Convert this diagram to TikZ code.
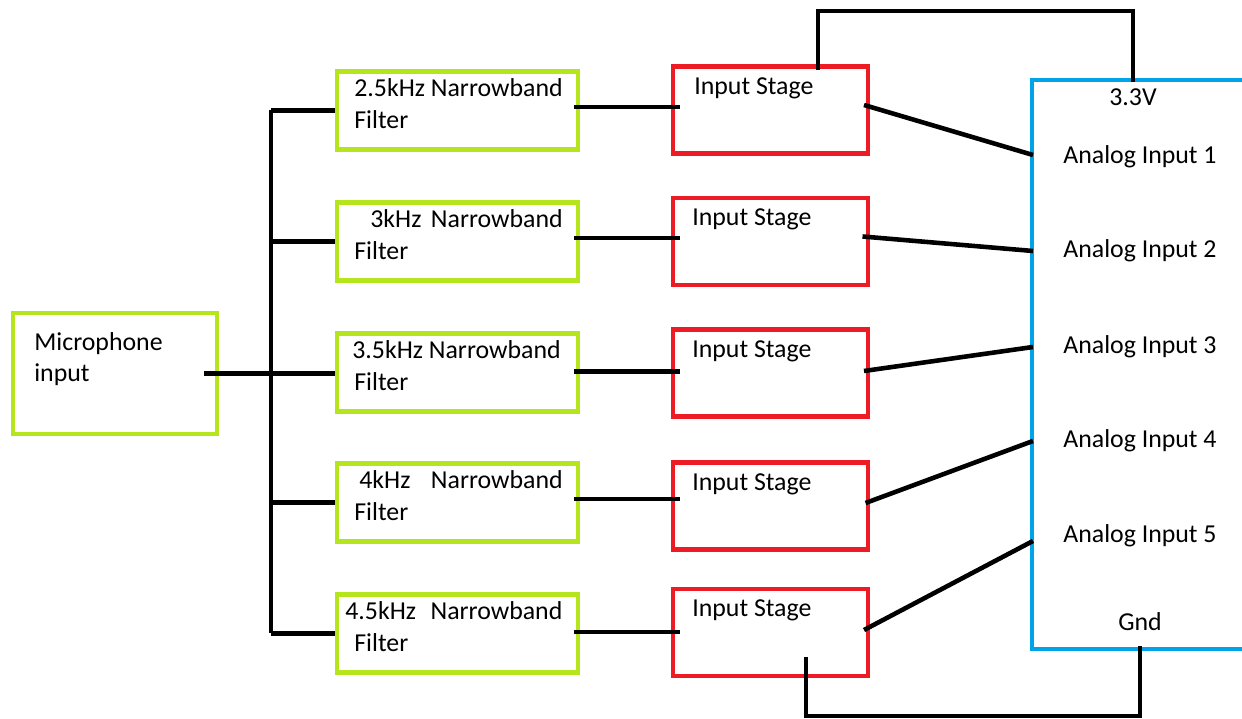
\documentclass[tikz,border=0pt]{standalone}
\usepackage{fontspec}
\setmainfont{Carlito}
\usetikzlibrary{positioning,calc}
\definecolor{paintgreen}{RGB}{181,230,29}
\definecolor{paintred}{RGB}{237,28,36}
\definecolor{paintblue}{RGB}{0,162,232}
\tikzset{
	lbl/.style={font=\fontsize{14.7}{17.9}\selectfont},
	txt/.style={lbl,inner sep=0pt,align=left,anchor=west},
	filterbox/.style={rectangle,draw=paintgreen,line width=2.3pt,minimum width=4.82cm,minimum height=1.56cm},
	stagebox/.style={rectangle,draw=paintred,line width=2.3pt,minimum width=3.9cm,minimum height=1.74cm},
	wire/.style={black,line width=2.6pt}
}

\begin{document}
\begin{tikzpicture}
	\useasboundingbox (0,0) rectangle (24.84,14.38);
	\clip (0,0) rectangle (24.84,14.38);
	
	%boxes
	\node[filterbox,minimum width=4.08cm,minimum height=2.42cm] (mic) at (2.30,6.91) {};
	
	\node[filterbox] (f1) at (9.15,12.17) {};
	\node[filterbox] (f2) at (9.15,9.55) {};
	\node[filterbox] (f3) at (9.15,6.93) {};
	\node[filterbox] (f4) at (9.15,4.33) {};
	\node[filterbox] (f5) at (9.15,1.71) {};
	
	\node[stagebox] (s1) at (15.41,12.18) {};
	\node[stagebox] (s2) at (15.41,9.55) {};
	\node[stagebox] (s3) at (15.41,6.92) {};
	\node[stagebox] (s4) at (15.41,4.26) {};
	\node[stagebox] (s5) at (15.41,1.73) {};
	
	\node[rectangle,draw=paintblue,line width=2.3pt,minimum width=6cm,minimum height=11.38cm] (mcu) at (23.64,7.09) {};
	
	%texts
	\node[txt] (micT) at ($(mic.west)+(0.46,0.29)$) {Microphone\\input};
	
	\node[txt] (f1T) at ($(f1.west)+(0.38,0.14)$) {2.5kHz Narrowband\\Filter};
	\node[txt] (f2T) at ($(f2.west)+(0.38,0.14)$) {\hspace*{0.32cm}3kHz\hspace{0.19cm}Narrowband\\Filter};
	\node[txt] (f3T) at ($(f3.west)+(0.38,0.14)$) {\hspace*{-0.04cm}3.5kHz Narrowband\\Filter};
	\node[txt] (f4T) at ($(f4.west)+(0.38,0.14)$) {\hspace*{0.1cm}4kHz\hspace{0.41cm}Narrowband\\Filter};
	\node[txt] (f5T) at ($(f5.west)+(0.38,0.14)$) {\hspace*{-0.18cm}4.5kHz\hspace{0.29cm}Narrowband\\Filter};
	
	\node[txt] (s1T) at ($(s1.west)+(0.46,0.44)$) {Input Stage};
	\node[txt] (s2T) at ($(s2.west)+(0.42,0.44)$) {Input Stage};
	\node[txt] (s3T) at ($(s3.west)+(0.42,0.44)$) {Input Stage};
	\node[txt] (s4T) at ($(s4.west)+(0.42,0.44)$) {Input Stage};
	\node[txt] (s5T) at ($(s5.west)+(0.42,0.44)$) {Input Stage};
	
	\node[txt] (a1) at (21.26,11.24) {Analog Input 1};
	\node[txt] (a2) at (21.26,9.36) {Analog Input 2};
	\node[txt] (a3) at (21.26,7.44) {Analog Input 3};
	\node[txt] (a4) at (21.26,5.56) {Analog Input 4};
	\node[txt] (a5) at (21.26,3.66) {Analog Input 5};
	
	\node[lbl] (vcc) at (22.66,12.44) {3.3V};
	\node[lbl] (gnd) at (22.80,1.94) {Gnd};
	
	%microphone bus
	\coordinate (bus) at (5.42,0);
	\draw[wire] ($(mic.east)+(-0.30,0)$) -- (mic.east -| f3.west);
	\draw[wire] (f1.west -| bus) -- (f5.west -| bus);
	\draw[wire] (f1.west -| bus) -- (f1.west);
	\draw[wire] (f2.west -| bus) -- (f2.west);
	\draw[wire] (f4.west -| bus) -- (f4.west);
	\draw[wire] (f5.west -| bus) -- (f5.west);
	
	%filter to input stage
	\draw[wire] ($(f1.east)+(-0.12,0.07)$) -- ($(s1.west |- f1.east)+(0.18,0.07)$);
	\draw[wire] ($(f2.east)+(-0.12,0.07)$) -- ($(s2.west |- f2.east)+(0.18,0.07)$);
	\draw[wire] ($(f3.east)+(-0.12,0.02)$) -- ($(s3.west |- f3.east)+(0.18,0.02)$);
	\draw[wire] ($(f4.east)+(-0.12,0.07)$) -- ($(s4.west |- f4.east)+(0.18,0.07)$);
	\draw[wire] ($(f5.east)+(-0.12,0.03)$) -- ($(s5.west |- f5.east)+(0.18,0.03)$);
	
	%input stage to analog inputs
	\draw[wire] ($(s1.east)+(-0.12,0.1)$) -- ($(mcu.west |- a1.west)+(0.06,0.04)$);
	\draw[wire] ($(s2.east)+(-0.15,0.1)$) -- ($(mcu.west |- a2.west)+(0.06,0)$);
	\draw[wire] ($(s3.east)+(-0.12,0.04)$) -- ($(mcu.west |- a3.west)+(0.06,0)$);
	\draw[wire] ($(s4.east)+(-0.09,0.06)$) -- ($(mcu.west |- a4.west)+(0.06,0)$);
	\draw[wire] ($(s5.east)+(-0.12,0.05)$) -- ($(mcu.west |- a5.west)+(0.06,-0.1)$);
	
	%supply
	\coordinate (top) at (0,14.16);
	\coordinate (bottom) at (0,0.06);
	\draw[wire] ($(s1.north)+(0.95,-0.11)$) coordinate (vin) -- (vin |- top) -| (vcc.north);
	\draw[wire] ($(s5.center)+(0.71,-0.49)$) coordinate (gin) -- (gin |- bottom) -| ($(gnd.south)+(0,-0.18)$);
\end{tikzpicture}
\end{document}
